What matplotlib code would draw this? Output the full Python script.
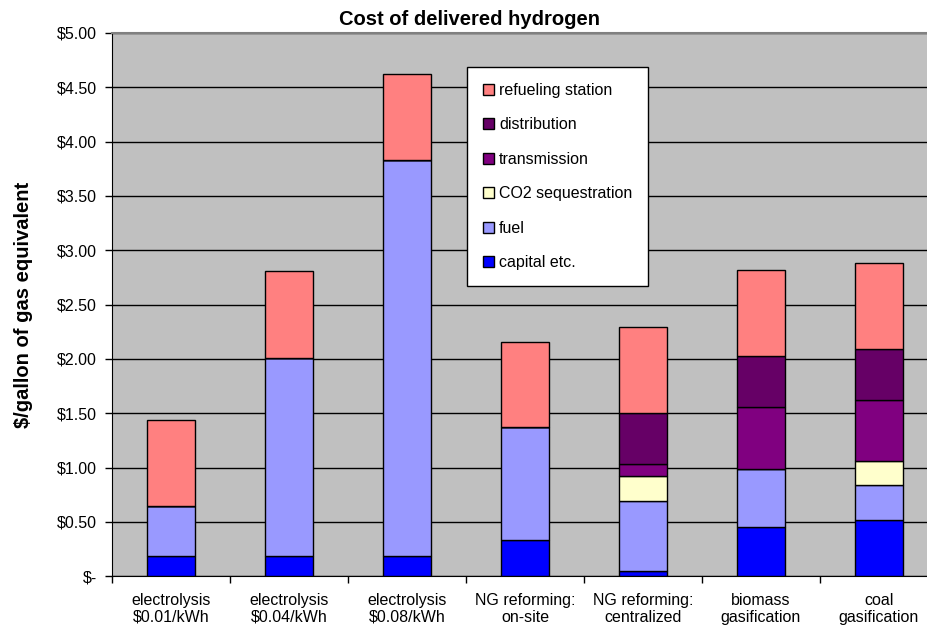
import matplotlib.pyplot as plt
import numpy as np

plt.rcParams['font.family'] = ['Liberation Sans', 'DejaVu Sans']

categories = ["electrolysis\n$0.01/kWh", "electrolysis\n$0.04/kWh", "electrolysis\n$0.08/kWh",
              "NG reforming:\non-site", "NG reforming:\ncentralized", "biomass\ngasification",
              "coal\ngasification"]
capital = [0.19, 0.19, 0.19, 0.33, 0.05, 0.45, 0.52]
fuel = [0.46, 1.82, 3.64, 1.04, 0.64, 0.54, 0.32]
co2 = [0, 0, 0, 0, 0.23, 0, 0.22]
transmission = [0, 0, 0, 0, 0.11, 0.57, 0.56]
distribution = [0, 0, 0, 0, 0.47, 0.47, 0.47]
refueling = [0.79, 0.80, 0.79, 0.79, 0.79, 0.79, 0.79]

series = [
    ("capital etc.", capital, "#0000FF"),
    ("fuel", fuel, "#9999FF"),
    ("CO2 sequestration", co2, "#FFFFCC"),
    ("transmission", transmission, "#800080"),
    ("distribution", distribution, "#660066"),
    ("refueling station", refueling, "#FF8080"),
]
yticks = [0, 0.5, 1.0, 1.5, 2.0, 2.5, 3.0, 3.5, 4.0, 4.5, 5.0]
ytick_labels = ["$-", "$0.50", "$1.00", "$1.50", "$2.00", "$2.50", "$3.00",
                "$3.50", "$4.00", "$4.50", "$5.00"]

fig = plt.figure(figsize=(9.28, 6.32), dpi=100)
ax = fig.add_axes([112 / 928, 1 - 576.3 / 632, 826 / 928, (576.3 - 33) / 632])
ax.set_facecolor("#C0C0C0")

x = np.arange(len(categories))
bottom = np.zeros(len(categories))
handles = []
for name, vals, color in series:
    vals = np.array(vals)
    b = ax.bar(x, vals, 0.405, bottom=bottom, color=color, edgecolor="black",
               linewidth=1.0, label=name, zorder=3)
    handles.append(b)
    bottom += vals

ax.set_xlim(-0.5, len(categories) - 0.5)
ax.set_ylim(0, 5)
ax.set_yticks(yticks)
ax.set_yticklabels(ytick_labels, fontsize=11.5)
ax.yaxis.grid(True, color="black", linewidth=1.0, zorder=1)
ax.set_axisbelow(True)

ax.set_xticks(np.arange(len(categories) + 1) - 0.5)
ax.set_xticklabels([])
ax.set_xticks(x, minor=True)
ax.set_xticklabels(categories, minor=True, fontsize=11.5, linespacing=1.15)
ax.tick_params(axis="x", which="major", length=5, direction="out", width=1)
ax.tick_params(axis="x", which="minor", length=0, pad=12)
ax.tick_params(axis="y", length=5, width=1, pad=6)

for s in ["left", "bottom"]:
    ax.spines[s].set_color("black")
ax.spines["top"].set_color("#808080")
ax.spines["top"].set_linewidth(1.5)
ax.spines["right"].set_visible(False)

ax.set_ylabel("$/gallon of gas equivalent", fontsize=14.5, fontweight="bold", labelpad=17)
ax.set_title("Cost of delivered hydrogen", fontsize=14.5, fontweight="bold", pad=6, x=0.433)

leg = ax.legend(handles[::-1], [s[0] for s in series][::-1], loc="upper left",
                bbox_to_anchor=(0.43, 0.9375), fontsize=11.5, labelspacing=1.22,
                handlelength=0.65, handleheight=0.65, handletextpad=0.35,
                borderpad=1.0, fancybox=False, framealpha=1, edgecolor="black",
                borderaxespad=0)
leg.get_frame().set_linewidth(1.0)

fig.savefig("out.png", dpi=100)
